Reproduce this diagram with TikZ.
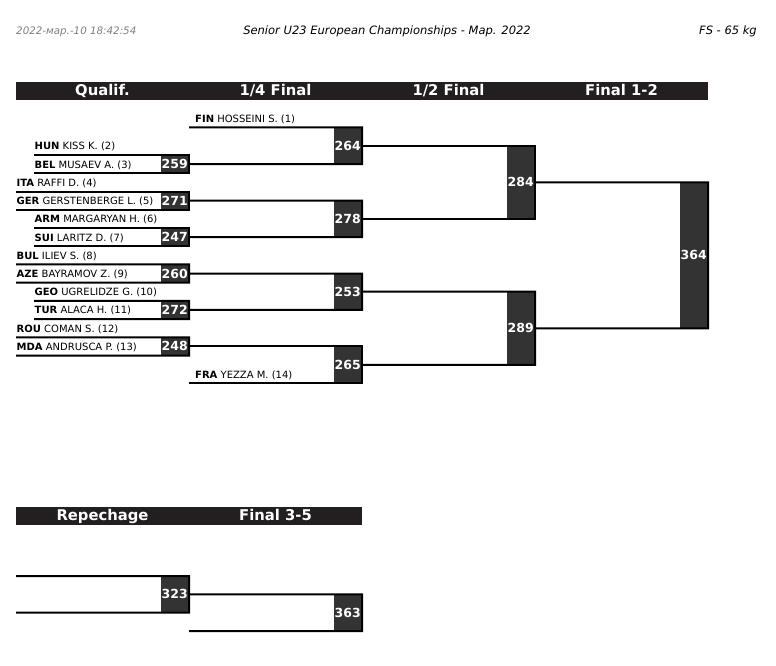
\documentclass[tikz,border=0pt]{standalone}
\usepackage{fontspec}
\setmainfont{DejaVu Sans}
\definecolor{fondbarre}{HTML}{231F20}
\definecolor{fondcase}{HTML}{333333}
\definecolor{grisdate}{HTML}{7F7F7F}

\begin{document}
\begin{tikzpicture}[x=1pt,y=-1pt,
        ligne/.style={line width=2pt},
        barre/.style={fill=fondbarre},
        titre/.style={anchor=base,text=white,inner sep=0,font=\fontsize{14.8}{14.8}\selectfont\bfseries},
        entete/.style={anchor=base,inner sep=0,font=\fontsize{11.5}{11.5}\selectfont\itshape},
        nom/.style={anchor=south west,inner xsep=0.5pt,inner ysep=0pt,text depth=5pt,font=\fontsize{10}{10}\selectfont},
        score/.style={anchor=east,fill=fondcase,text=white,minimum width=28.5pt,inner sep=0,outer sep=0,font=\fontsize{12.5}{12.5}\selectfont\bfseries}]
        \useasboundingbox (0,0) rectangle (776,666);
        % En-tete de la page
        \node[entete,anchor=base west,text=grisdate,font=\fontsize{10.3}{10.3}\selectfont\itshape] (date) at (16,35) {2022-мар.-10 18:42:54};
        \node[entete] (tournoi) at (387,35) {Senior U23 European Championships - Мар. 2022};
        \node[entete,anchor=base east] (categorie) at (757,35) {FS - 65 kg};
        % Bandeaux des tours
        \fill[barre] (16,82) rectangle (708,100);
        \node[titre] (h-qualif) at (102.5,95.5) {Qualif.};
        \node[titre] (h-quart) at (275.5,95.5) {1/4 Final};
        \node[titre] (h-demi) at (448.5,95.5) {1/2 Final};
        \node[titre] (h-finale) at (621.5,95.5) {Final 1-2};
        \fill[barre] (16,507) rectangle (362,525);
        \node[titre] (h-repechage) at (102.5,520.5) {Repechage};
        \node[titre] (h-bronze) at (275.5,520.5) {Final 3-5};
        % Lutteurs
        \node[nom,inner xsep=6pt] (fin) at (189,127.3) {\textbf{FIN} HOSSEINI S. (1)};
        \node[nom] (hun) at (34,155) {\textbf{HUN} KISS K. (2)};
        \node[nom] (bel) at (34,173.2) {\textbf{BEL} MUSAEV A. (3)};
        \node[nom] (ita) at (16,191.5) {\textbf{ITA} RAFFI D. (4)};
        \node[nom] (ger) at (16,209.7) {\textbf{GER} GERSTENBERGE L. (5)};
        \node[nom] (arm) at (34,227.9) {\textbf{ARM} MARGARYAN H. (6)};
        \node[nom] (sui) at (34,246.2) {\textbf{SUI} LARITZ D. (7)};
        \node[nom] (bul) at (16,264.4) {\textbf{BUL} ILIEV S. (8)};
        \node[nom] (aze) at (16,282.6) {\textbf{AZE} BAYRAMOV Z. (9)};
        \node[nom] (geo) at (34,300.8) {\textbf{GEO} UGRELIDZE G. (10)};
        \node[nom] (tur) at (34,319.1) {\textbf{TUR} ALACA H. (11)};
        \node[nom] (rou) at (16,337.3) {\textbf{ROU} COMAN S. (12)};
        \node[nom] (mda) at (16,355.5) {\textbf{MDA} ANDRUSCA P. (13)};
        \node[nom,inner xsep=6pt] (fra) at (189,383.3) {\textbf{FRA} YEZZA M. (14)};
        % Cases des combats
        \node[score,minimum height=18.2pt] (m259) at (189,164.1) {259};
        \node[score,minimum height=18.2pt] (m271) at (189,200.6) {271};
        \node[score,minimum height=18.3pt] (m247) at (189,237.05) {247};
        \node[score,minimum height=18.2pt] (m260) at (189,273.5) {260};
        \node[score,minimum height=18.3pt] (m272) at (189,309.95) {272};
        \node[score,minimum height=18.2pt] (m248) at (189,346.4) {248};
        \node[score,minimum height=36.8pt] (m264) at (362,145.7) {264};
        \node[score,minimum height=36.45pt] (m278) at (362,218.8) {278};
        \node[score,minimum height=36.45pt] (m253) at (362,291.7) {253};
        \node[score,minimum height=36.9pt] (m265) at (362,364.85) {265};
        \node[score,minimum height=73.1pt] (m284) at (535,182.25) {284};
        \node[score,minimum height=73.15pt] (m289) at (535,328.3) {289};
        \node[score,minimum height=146.05pt] (m364) at (708,255.3) {364};
        \node[score,minimum height=36.7pt] (m323) at (189,594.3) {323};
        \node[score,minimum height=36.7pt] (m363) at (362,612.65) {363};
        % Qualifications
        \draw[ligne] (hun.south west) -| (m259.south east) -- (bel.south west);
        \draw[ligne] (ita.south west) -| (m271.south east) -- (ger.south west);
        \draw[ligne] (arm.south west) -| (m247.south east) -- (sui.south west);
        \draw[ligne] (bul.south west) -| (m260.south east) -- (aze.south west);
        \draw[ligne] (geo.south west) -| (m272.south east) -- (tur.south west);
        \draw[ligne] (rou.south west) -| (m248.south east) -- (mda.south west);
        % Quarts, demies et finale
        \draw[ligne] (fin.south west) -| (m264.south east) -- (m259.east);
        \draw[ligne] (m271.east) -| (m278.south east) -- (m247.east);
        \draw[ligne] (m260.east) -| (m253.south east) -- (m272.east);
        \draw[ligne] (m248.east) -| (m265.south east) -- (fra.south west);
        \draw[ligne] (m264.east) -| (m284.south east) -- (m278.east);
        \draw[ligne] (m253.east) -| (m289.south east) -- (m265.east);
        \draw[ligne] (m284.east) -| (m364.south east) -- (m289.east);
        % Repechages
        \coordinate (r1) at (16,576);
        \coordinate (r2) at (16,612.7);
        \coordinate (r3) at (189,631);
        \draw[ligne] (r1) -| (m323.south east) -- (r2);
        \draw[ligne] (m323.east) -| (m363.south east) -- (r3);
    \end{tikzpicture}
\end{document}
